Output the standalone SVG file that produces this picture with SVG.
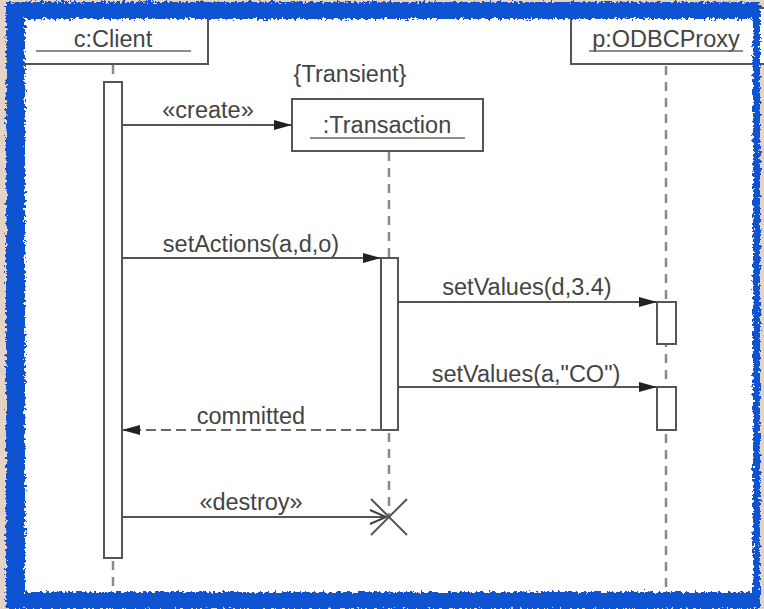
<svg xmlns="http://www.w3.org/2000/svg" width="764" height="609" viewBox="0 0 764 609">
<defs>
<style>
.t{font-family:"Liberation Sans",Arial,sans-serif;font-size:23.5px;fill:#444;}
.box{fill:#fff;stroke:#555;stroke-width:2;}
.ul{stroke:#666;stroke-width:1.6;}
.life{stroke:#8a8a8a;stroke-width:2.5;stroke-dasharray:9 7;fill:none;}
.msg{stroke:#555;stroke-width:1.8;fill:none;}
.ret{stroke:#666;stroke-width:1.8;fill:none;stroke-dasharray:10 5;}
.act{fill:#fff;stroke:#555;stroke-width:2;}
</style>
<marker id="fill" markerUnits="userSpaceOnUse" markerWidth="19" markerHeight="11" refX="18" refY="5" orient="auto">
<path d="M0,0 L18,5 L0,10 Z" fill="#222"/>
</marker>
<marker id="open" markerUnits="userSpaceOnUse" markerWidth="20" markerHeight="18" refX="17" refY="8" orient="auto">
<path d="M1,1 L17,8 L1,15" fill="none" stroke="#444" stroke-width="2"/>
</marker>
<filter id="rough" x="-5%" y="-5%" width="110%" height="110%">
<feTurbulence type="fractalNoise" baseFrequency="0.35" numOctaves="2" seed="3" result="n"/>
<feDisplacementMap in="SourceGraphic" in2="n" scale="7" xChannelSelector="R" yChannelSelector="G"/>
</filter>
<filter id="paper">
<feTurbulence type="fractalNoise" baseFrequency="0.02 0.06" numOctaves="3" seed="7" result="n"/>
<feColorMatrix in="n" type="matrix" values="0 0 0 0 0.86  0 0 0 0 0.76  0 0 0 0 0.68  0 0 0 0.5 0.5"/>
</filter>
</defs>

<rect x="0" y="0" width="764" height="609" fill="#ddc9b8"/>
<rect x="0" y="0" width="764" height="609" filter="url(#paper)" opacity="0.6"/>
<rect x="20" y="15" width="738" height="582" fill="#fff"/>

<g id="client">
<rect class="box" x="18" y="8" width="190" height="56"/>
<text class="t" x="113" y="47" text-anchor="middle">c:Client</text>
<line class="ul" x1="36" y1="51" x2="191" y2="51"/>
</g>

<g id="transaction">
<text class="t" x="350" y="82" text-anchor="middle">{Transient}</text>
<rect class="box" x="292" y="99" width="191" height="52"/>
<text class="t" x="387" y="133" text-anchor="middle">:Transaction</text>
<line class="ul" x1="310" y1="138" x2="465" y2="138"/>
</g>

<g id="proxy">
<rect class="box" x="571" y="8" width="200" height="56"/>
<text class="t" x="666" y="47" text-anchor="middle">p:ODBCProxy</text>
<line class="ul" x1="589" y1="51" x2="743" y2="51"/>
</g>

<g id="lifelines">
<line class="life" x1="113" y1="65" x2="113" y2="82" stroke-dasharray="5 20"/>
<line class="life" x1="113" y1="561" x2="113" y2="600"/>
<line class="life" x1="389" y1="152" x2="389" y2="258"/>
<line class="life" x1="389" y1="433" x2="389" y2="517"/>
<line class="life" x1="666" y1="66" x2="666" y2="600"/>
</g>

<g id="activations">
<rect class="act" x="104" y="82" width="18" height="476"/>
<rect class="act" x="381" y="258" width="17" height="172"/>
<rect class="act" x="657" y="302" width="19" height="42"/>
<rect class="act" x="657" y="387" width="19" height="43"/>
</g>

<g id="connectors">
<path class="msg" d="M122,125 H292" marker-end="url(#fill)"/>
<path class="msg" d="M122,258 H381" marker-end="url(#fill)"/>
<path class="msg" d="M398,302 H657" marker-end="url(#fill)"/>
<path class="msg" d="M398,387 H657" marker-end="url(#fill)"/>
<path class="ret" d="M381,430 H122" marker-end="url(#fill)"/>
<path class="msg" d="M122,517 H386" marker-end="url(#open)"/>
<text class="t" x="208" y="118" text-anchor="middle">«create»</text>
<text class="t" x="251" y="252" text-anchor="middle">setActions(a,d,o)</text>
<text class="t" x="527" y="295" text-anchor="middle">setValues(d,3.4)</text>
<text class="t" x="526" y="382" text-anchor="middle">setValues(a,"CO")</text>
<text class="t" x="251" y="424" text-anchor="middle">committed</text>
<text class="t" x="251" y="510" text-anchor="middle">«destroy»</text>
</g>

<g id="destroy-mark">
<line x1="371" y1="499" x2="407" y2="535" stroke="#555" stroke-width="2"/>
<line x1="371" y1="535" x2="407" y2="499" stroke="#555" stroke-width="2"/>
</g>

<g id="frame">
<path d="M6,2 H760 V609 H6 Z M25,19 V592 H753 V19 Z" fill="#0752d2" fill-rule="evenodd" filter="url(#rough)"/>
</g>
</svg>
